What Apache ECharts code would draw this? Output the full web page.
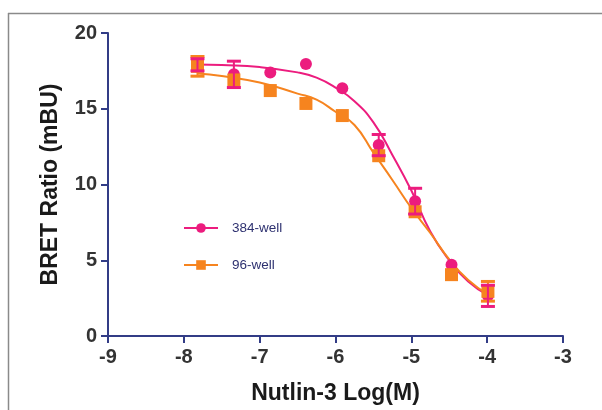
<!DOCTYPE html>
<html>
<head>
<meta charset="utf-8">
<script src="https://cdn.jsdelivr.net/npm/echarts@6/dist/echarts.min.js"></script>
<style>
html,body{margin:0;padding:0;background:#fff}
#chart{width:602px;height:410px}
</style>
</head>
<body>
<div id="chart"></div>
<script>
// measured points (log M)
var logConc   = [-7.82, -7.34, -6.86, -6.39, -5.91, -5.43, -4.95, -4.47, -3.99];
var well384    = [17.9, 17.27, 17.4, 17.95, 16.35, 12.6, 8.9, 4.7, 2.65];
var well384Err = [0.4, 0.87, 0, 0, 0, 0.7, 0.85, 0, 0.7];
var well96     = [17.8, 16.9, 16.2, 15.35, 14.55, 11.9, 8.2, 4.05, 2.95];
var well96Err  = [0.65, 0, 0, 0, 0, 0, 0, 0, 0.65];
// fitted curves
var fitX   = [-7.82, -7.5, -7.0, -6.5, -6.25, -6.0, -5.75, -5.5, -5.25, -5.0, -4.75, -4.5, -4.25, -3.99];
var fit384 = [17.92, 17.88, 17.75, 17.4, 17.05, 16.4, 15.5, 14.1, 11.95, 9.6, 6.9, 5.0, 3.6, 2.7];
var fit96  = [17.33, 17.16, 16.73, 16.0, 15.6, 14.8, 13.93, 12.1, 10.3, 8.45, 6.8, 5.05, 3.7, 2.75];
var xTicks = [-9, -8, -7, -6, -5, -4, -3];
var yTicks = [0, 5, 10, 15, 20];

var PINK = '#ec1c7e', ORANGE = '#f6841f', AXIS = '#323c86';
var FONT = '"Liberation Sans", Arial, sans-serif';

function zip(xs, ys){
	return xs.map(function(x, i){ return [x, ys[i]]; });
}
function errData(vals, errs){
	var out = [];
	logConc.forEach(function(x, i){
		if(errs[i] > 0) out.push([x, vals[i], errs[i]]);
	});
	return out;
}
function errRender(color){
	return function(params, api){
		var x = api.value(0), y = api.value(1), e = api.value(2);
		var top = api.coord([x, y + e]), bot = api.coord([x, y - e]);
		var w = 7;
		return {
			type:'group',
			children:[
				{type:'line', shape:{x1:top[0], y1:top[1], x2:bot[0], y2:bot[1]}, style:{stroke:color, lineWidth:2}},
				{type:'line', shape:{x1:top[0]-w, y1:top[1], x2:top[0]+w, y2:top[1]}, style:{stroke:color, lineWidth:3}},
				{type:'line', shape:{x1:bot[0]-w, y1:bot[1], x2:bot[0]+w, y2:bot[1]}, style:{stroke:color, lineWidth:3}}
			]
		};
	};
}

var chart = echarts.init(document.getElementById('chart'));
var option = {
	animation:false,
	textStyle:{fontFamily:FONT},
	grid:{left:108, right:39, top:33, bottom:74},
	legend:{
		data:['384-well','96-well'],
		orient:'vertical',
		left:178,
		top:216,
		itemWidth:34,
		itemHeight:12,
		itemGap:23,
		textStyle:{color:'#2e3170', fontSize:13.5, fontFamily:FONT, padding:[0,0,0,9]}
	},
	xAxis:{
		type:'value', min:-9, max:-3, interval:1,
		name:'Nutlin-3 Log(M)', nameLocation:'middle', nameGap:46,
		nameTextStyle:{fontSize:23, fontWeight:'bold', color:'#1a1a1a', fontFamily:FONT},
		axisLine:{lineStyle:{color:AXIS, width:2}},
		axisTick:{length:7, lineStyle:{color:AXIS, width:2}},
		axisLabel:{fontSize:20, fontWeight:'bold', color:'#333', margin:11, fontFamily:FONT},
		splitLine:{show:false}
	},
	yAxis:{
		type:'value', min:0, max:20, interval:5,
		name:'BRET Ratio (mBU)', nameLocation:'middle', nameGap:46,
		nameTextStyle:{fontSize:23, fontWeight:'bold', color:'#1a1a1a', fontFamily:FONT},
		axisLine:{show:true, lineStyle:{color:AXIS, width:2}},
		axisTick:{show:true, length:7, lineStyle:{color:AXIS, width:2}},
		axisLabel:{fontSize:20, fontWeight:'bold', color:'#333', margin:11, fontFamily:FONT},
		splitLine:{show:false}
	},
	graphic:[
		{type:'line', shape:{x1:8, y1:13.5, x2:602, y2:13.5}, style:{stroke:'#8a8a8a', lineWidth:1.5}},
		{type:'line', shape:{x1:8.5, y1:13, x2:8.5, y2:410}, style:{stroke:'#8a8a8a', lineWidth:1.5}}
	],
	series:[
		{
			name:'384-well', type:'line', data:zip(fitX, fit384),
			smooth:0.5, showSymbol:false,
			symbol:'circle', symbolSize:11,
			lineStyle:{color:PINK, width:2}, itemStyle:{color:PINK}, z:2
		},
		{
			name:'96-well', type:'line', data:zip(fitX, fit96),
			smooth:0.5, showSymbol:false,
			symbol:'rect', symbolSize:12,
			lineStyle:{color:ORANGE, width:2}, itemStyle:{color:ORANGE}, z:2
		},
		{
			type:'scatter', data:zip(logConc, well384),
			symbol:'circle', symbolSize:12, itemStyle:{color:PINK, opacity:1}, z:3
		},
		{
			type:'scatter', data:zip(logConc, well96),
			symbol:'rect', symbolSize:13, itemStyle:{color:ORANGE, opacity:1}, z:4
		},
		{
			type:'custom', data:errData(well96, well96Err),
			renderItem:errRender(ORANGE), z:4
		},
		{
			type:'custom', data:errData(well384, well384Err),
			renderItem:errRender(PINK), z:5
		}
	]
};
chart.setOption(option);
</script>
</body>
</html>
